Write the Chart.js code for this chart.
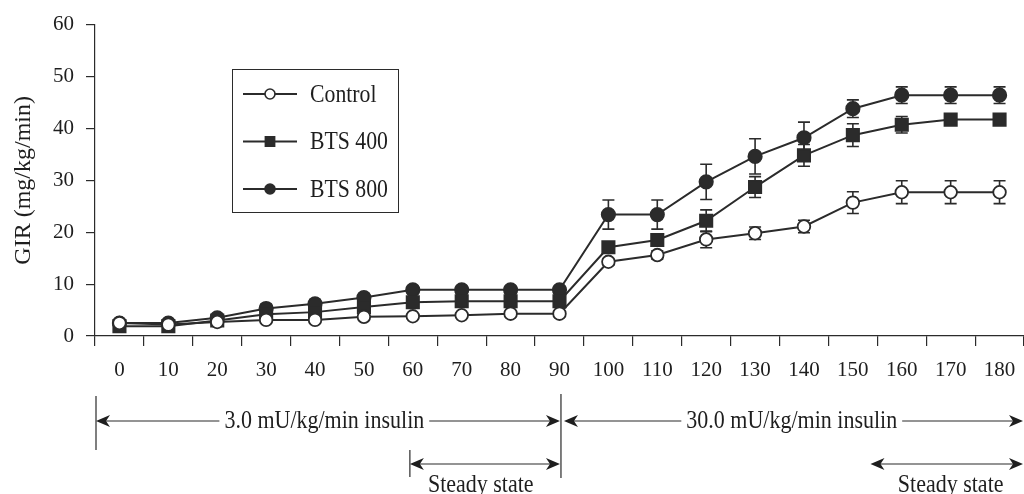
<!DOCTYPE html>
<html>
<head>
<meta charset="utf-8">
<script src="https://cdn.jsdelivr.net/npm/chart.js@4.4.1/dist/chart.umd.min.js"></script>
<style>
  html, body { margin: 0; padding: 0; background: #fff; }
  #wrap { width: 1024px; height: 494px; }
</style>
</head>
<body>
<div id="wrap"><canvas id="girChart" width="1024" height="494"></canvas></div>
<script>
// time points (min)
const minutes = ['0', '10', '20', '30', '40', '50', '60', '70', '80', '90',
                 '100', '110', '120', '130', '140', '150', '160', '170', '180'];

// GIR mean values (mg/kg/min)
const controlGir = [2.5, 2.2, 2.7, 3.1, 3.1, 3.7, 3.8, 4.0, 4.3, 4.3,
                    14.3, 15.6, 18.6, 19.8, 21.1, 25.7, 27.7, 27.7, 27.7];
const bts400Gir = [1.9, 1.9, 3.0, 4.2, 4.6, 5.6, 6.5, 6.7, 6.7, 6.7,
                   17.1, 18.5, 22.2, 28.7, 34.8, 38.7, 40.7, 41.7, 41.7];
const bts800Gir = [2.5, 2.5, 3.5, 5.3, 6.2, 7.4, 8.9, 8.9, 8.9, 8.9,
                   23.4, 23.4, 29.7, 34.6, 38.2, 43.8, 46.4, 46.4, 46.4];

// standard errors
const controlSe = [0.3, 0.3, 0.3, 0.4, 0.4, 0.4, 0.4, 0.4, 0.4, 0.4,
                   0.6, 0.8, 1.6, 1.2, 1.2, 2.1, 2.2, 2.2, 2.2];
const bts400Se = [0.3, 0.3, 0.3, 0.4, 0.4, 0.5, 0.6, 0.6, 0.6, 0.6,
                  0.8, 1.0, 2.1, 2.0, 2.1, 2.2, 1.6, 0.5, 0.5];
const bts800Se = [0.3, 0.3, 0.5, 0.8, 0.8, 0.8, 0.7, 0.7, 0.7, 0.7,
                  2.8, 2.8, 3.4, 3.4, 3.0, 1.7, 1.6, 1.6, 1.6];

const seriesNames = ['Control', 'BTS 400', 'BTS 800'];
const yMin = 0, yMax = 60, yStep = 10;

const INK = '#2b2b2b';
const TEXT = '#1e1e1e';
const FONT = '"Liberation Serif", "DejaVu Serif", serif';

// the source figure uses a narrow, tall serif: squeeze the hand drawn text a bit
function narrowText(ctx, text, x, y, size, squeeze) {
    ctx.save();
    ctx.font = size + 'px ' + FONT;
    ctx.translate(x, y);
    ctx.scale(squeeze, 1);
    ctx.fillText(text, 0, 0);
    ctx.restore();
}

// error bars under the markers
const errorBars = {
    id: 'errorBars',
    beforeDatasetsDraw(chart) {
        const ctx = chart.ctx;
        const y = chart.scales.y;
        ctx.save();
        ctx.strokeStyle = INK;
        ctx.lineWidth = 1.6;
        chart.data.datasets.forEach((ds, i) => {
            const meta = chart.getDatasetMeta(i);
            meta.data.forEach((pt, j) => {
                const v = ds.data[j], e = ds.se[j];
                const top = y.getPixelForValue(v + e);
                const bot = y.getPixelForValue(v - e);
                ctx.beginPath();
                ctx.moveTo(pt.x, top); ctx.lineTo(pt.x, bot);
                ctx.moveTo(pt.x - 6, top); ctx.lineTo(pt.x + 6, top);
                ctx.moveTo(pt.x - 6, bot); ctx.lineTo(pt.x + 6, bot);
                ctx.stroke();
            });
        });
        ctx.restore();
    }
};

// boxed legend with line + marker samples
const boxLegend = {
    id: 'boxLegend',
    afterDraw(chart) {
        const ctx = chart.ctx;
        ctx.save();
        ctx.strokeStyle = INK;
        ctx.lineWidth = 1;
        ctx.strokeRect(232.5, 69.5, 166, 143);
        ctx.textBaseline = 'middle';
        ctx.textAlign = 'left';
        chart.data.datasets.forEach((ds, i) => {
            const cy = 94 + i * 47.5;
            ctx.lineWidth = 2;
            ctx.strokeStyle = INK;
            ctx.beginPath();
            ctx.moveTo(243, cy); ctx.lineTo(297, cy);
            ctx.stroke();
            ctx.fillStyle = ds.pointBackgroundColor;
            ctx.lineWidth = 1.6;
            Chart.helpers.drawPoint(ctx, {
                pointStyle: ds.pointStyle,
                radius: ds.pointStyle === 'rect' ? 6.5 : 5,
                rotation: 0,
                borderWidth: 1.6
            }, 270, cy);
            ctx.fillStyle = TEXT;
            narrowText(ctx, ds.label, 310, cy + 1, 25, 0.87);
        });
        ctx.restore();
    }
};

// insulin phase / steady state annotations under the x axis
function arrowHead(ctx, x, y, dir) {
    ctx.beginPath();
    ctx.moveTo(x, y);
    ctx.lineTo(x - dir * 14, y - 6);
    ctx.lineTo(x - dir * 10, y);
    ctx.lineTo(x - dir * 14, y + 6);
    ctx.closePath();
    ctx.fill();
}

function labelledArrow(ctx, x1, x2, y, text, tx, ty, size) {
    const squeeze = 0.88;
    ctx.font = size + 'px ' + FONT;
    const w = ctx.measureText(text).width * squeeze;
    ctx.beginPath();
    if (ty === y) {
        ctx.moveTo(x1 + 4, y); ctx.lineTo(tx - w / 2 - 5, y);
        ctx.moveTo(tx + w / 2 + 5, y); ctx.lineTo(x2 - 4, y);
    } else {
        ctx.moveTo(x1 + 4, y); ctx.lineTo(x2 - 4, y);
    }
    ctx.stroke();
    arrowHead(ctx, x1, y, -1);
    arrowHead(ctx, x2, y, 1);
    narrowText(ctx, text, tx, ty, size, squeeze);
}

const phaseNotes = {
    id: 'phaseNotes',
    afterDraw(chart) {
        const ctx = chart.ctx;
        const x = chart.scales.x;
        const step = x.getPixelForValue(1) - x.getPixelForValue(0);
        const px = t => x.getPixelForValue(0) + t / 10 * step;
        const left = chart.chartArea.left + 1;
        const right = Math.min(chart.chartArea.right, chart.width) - 1;
        const mid = px(90.3);
        const ss1 = px(59.4);
        const ss2 = px(153.6);

        ctx.save();
        ctx.strokeStyle = INK;
        ctx.fillStyle = TEXT;
        ctx.lineWidth = 1.2;
        ctx.beginPath();
        ctx.moveTo(left, 396); ctx.lineTo(left, 450);
        ctx.moveTo(mid, 394); ctx.lineTo(mid, 478);
        ctx.moveTo(ss1, 450); ctx.lineTo(ss1, 477);
        ctx.stroke();

        ctx.textAlign = 'center';
        ctx.textBaseline = 'middle';
        labelledArrow(ctx, left, mid - 1, 421, '3.0 mU/kg/min insulin', px(41.9), 421, 25);
        labelledArrow(ctx, mid + 3, right, 421, '30.0 mU/kg/min insulin', px(137.5), 421, 25);

        ctx.textBaseline = 'alphabetic';
        labelledArrow(ctx, ss1, mid - 1, 464, 'Steady state', px(73.9), 492, 25);
        labelledArrow(ctx, ss2, right, 464, 'Steady state', px(170), 492, 25);
        ctx.restore();
    }
};

function series(label, data, se, style, fill, radius) {
    return {
        label: label,
        data: data,
        se: se,
        borderColor: INK,
        borderWidth: 2,
        pointStyle: style,
        pointRadius: radius,
        pointBackgroundColor: fill,
        pointBorderColor: INK,
        pointBorderWidth: 1.8,
        tension: 0,
        fill: false
    };
}

new Chart(document.getElementById('girChart'), {
    type: 'line',
    data: {
        labels: minutes,
        datasets: [
            series(seriesNames[0], controlGir, controlSe, 'circle', '#ffffff', 6.3),
            series(seriesNames[1], bts400Gir, bts400Se, 'rect', INK, 8.7),
            series(seriesNames[2], bts800Gir, bts800Se, 'circle', INK, 6.7)
        ]
    },
    options: {
        responsive: false,
        animation: false,
        devicePixelRatio: 1,
        layout: { autoPadding: false, padding: { top: 21, right: -3, bottom: 0, left: 0 } },
        plugins: {
            legend: { display: false },
            tooltip: { enabled: false }
        },
        scales: {
            x: {
                offset: true,
                grid: {
                    offset: true,
                    drawOnChartArea: false,
                    drawTicks: true,
                    tickLength: 10,
                    color: INK,
                    lineWidth: 1.2
                },
                border: { display: true, color: INK, width: 1.2 },
                ticks: {
                    color: TEXT,
                    padding: 12,
                    maxRotation: 0,
                    autoSkip: false,
                    font: { family: FONT, size: 21 }
                },
                afterFit(scale) {
                    scale.height = 494 - 336;
                    scale.paddingLeft = 0;
                    scale.paddingRight = 0;
                }
            },
            y: {
                min: yMin,
                max: yMax,
                ticks: {
                    stepSize: yStep,
                    color: TEXT,
                    padding: 12,
                    font: { family: FONT, size: 21 }
                },
                grid: {
                    drawOnChartArea: false,
                    drawTicks: true,
                    tickLength: 9,
                    color: INK,
                    lineWidth: 1.2
                },
                border: { display: true, color: INK, width: 1.2 },
                title: {
                    display: true,
                    text: 'GIR (mg/kg/min)',
                    color: TEXT,
                    padding: { top: 9, bottom: 0 },
                    font: { family: FONT, size: 24 }
                },
                afterFit(scale) { scale.width = 95; }
            }
        }
    },
    plugins: [errorBars, boxLegend, phaseNotes]
});
</script>
</body>
</html>
